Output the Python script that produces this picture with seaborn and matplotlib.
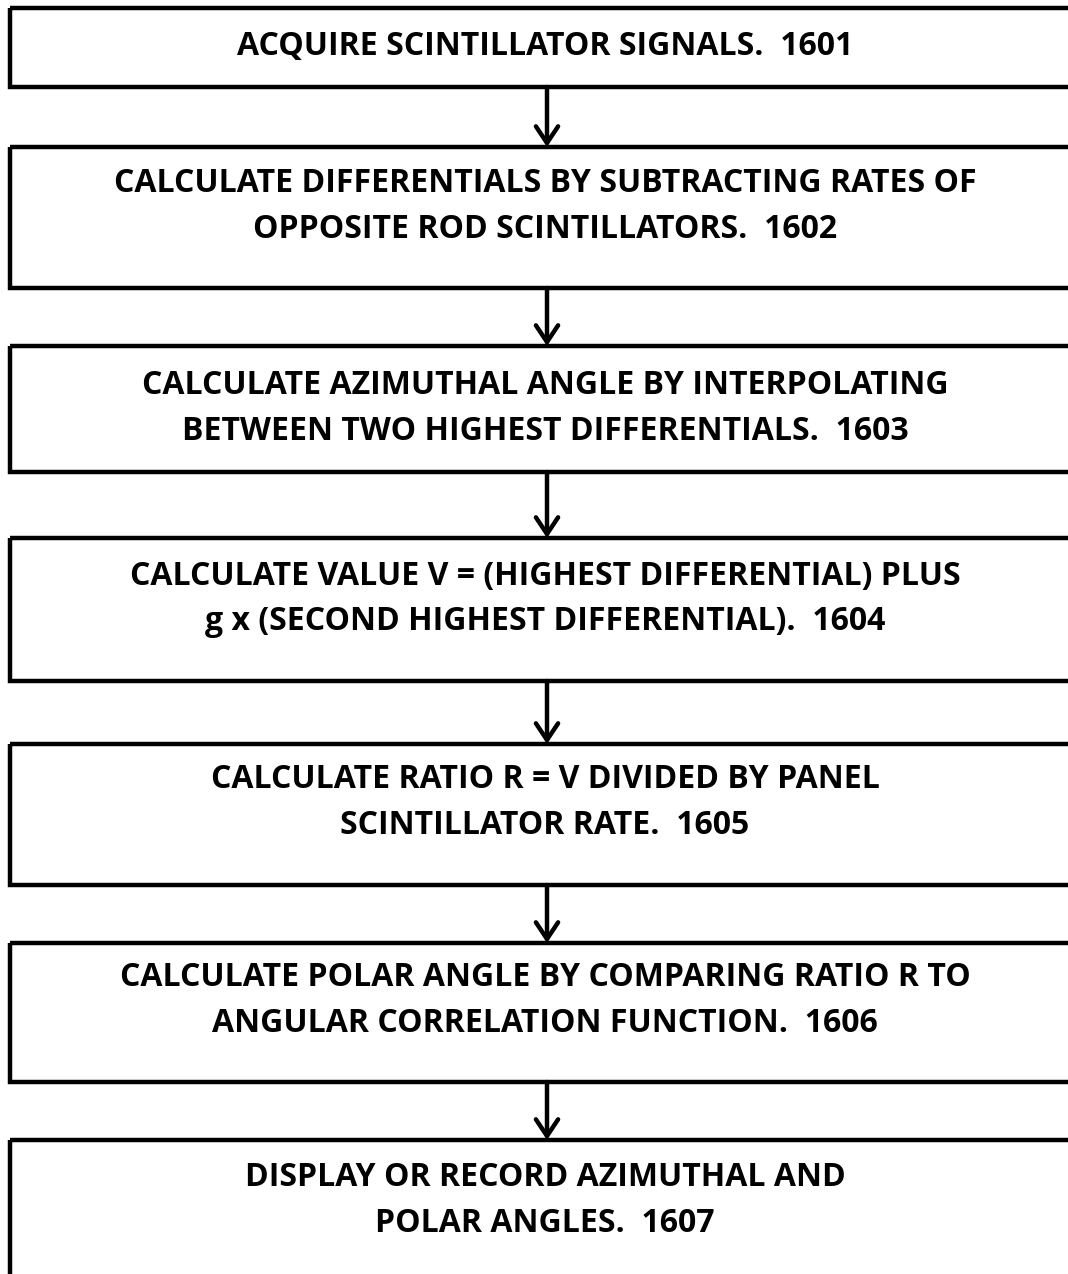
import matplotlib
matplotlib.use("Agg")
import matplotlib.pyplot as plt
from matplotlib.patches import Rectangle
import seaborn as sns

# flowchart steps (text lines per box) and reference numbers
step_lines = [
    ["ACQUIRE SCINTILLATOR SIGNALS."],
    ["CALCULATE DIFFERENTIALS BY SUBTRACTING RATES OF", "OPPOSITE ROD SCINTILLATORS."],
    ["CALCULATE AZIMUTHAL ANGLE BY INTERPOLATING", "BETWEEN TWO HIGHEST DIFFERENTIALS."],
    ["CALCULATE VALUE V = (HIGHEST DIFFERENTIAL) PLUS", "g x (SECOND HIGHEST DIFFERENTIAL)."],
    ["CALCULATE RATIO R = V DIVIDED BY PANEL", "SCINTILLATOR RATE."],
    ["CALCULATE POLAR ANGLE BY COMPARING RATIO R TO", "ANGULAR CORRELATION FUNCTION."],
    ["DISPLAY OR RECORD AZIMUTHAL AND", "POLAR ANGLES."],
]
step_ids = ["1601", "1602", "1603", "1604", "1605", "1606", "1607"]

# layout in pixel units (y grows downward)
box_top = [8, 147, 346, 538, 744, 943, 1140]
box_bottom = [87, 288, 472, 681, 885, 1082, 1320]
text_first_y = [46, 184, 386, 576, 779, 977, 1178]
line_gap = 46
box_left = 10
arrow_x = 547

sns.set_theme(style="white")
plt.rcParams["font.family"] = ["Open Sans", "DejaVu Sans"]

fig = plt.figure(figsize=(10.68, 12.74), dpi=100)
ax = fig.add_axes([0, 0, 1, 1])
ax.set_xlim(0, 1068)
ax.set_ylim(1274, 0)
ax.axis("off")

for i, lines in enumerate(step_lines):
    ax.add_patch(Rectangle((box_left, box_top[i]), 1200, box_bottom[i] - box_top[i],
                           fill=False, edgecolor="black", linewidth=3.2))
    for j, line in enumerate(lines):
        txt = line + "  " + step_ids[i] if j == len(lines) - 1 else line
        ax.text(545, text_first_y[i] + j * line_gap, txt, ha="center", va="center",
                fontsize=23, fontweight="bold", color="black")
    if i < len(step_lines) - 1:
        ax.annotate("", xy=(arrow_x, box_top[i + 1]), xytext=(arrow_x, box_bottom[i]),
                    arrowprops=dict(arrowstyle="->,head_length=0.6,head_width=0.4",
                                    mutation_scale=20, lw=3.2, color="black",
                                    shrinkA=0, shrinkB=0))

fig.savefig("out.png", dpi=100)
